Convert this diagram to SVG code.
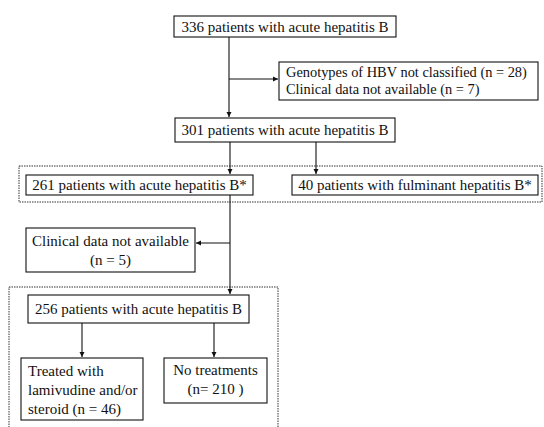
<svg xmlns="http://www.w3.org/2000/svg" width="544" height="427" viewBox="0 0 544 427">
<defs>
<marker id="ah" markerWidth="6" markerHeight="6" refX="5" refY="3" orient="auto" markerUnits="userSpaceOnUse">
<path d="M0,0.5 L5,3 L0,5.5 Z" fill="#111"/>
</marker>
<style>
.box{fill:#fff;stroke:#111;stroke-width:1.1}
.dot{fill:none;stroke:#333;stroke-width:1;stroke-dasharray:1.5 1}
.t{font-family:"Liberation Serif","Times New Roman",serif;font-size:15px;fill:#111}
.s{font-size:14.4px}
.c{text-anchor:middle}
.ln{stroke:#111;stroke-width:1.1;fill:none}
</style>
</defs>
<rect width="544" height="427" fill="#fff"/>
<g id="groups">
<rect class="dot" x="19" y="166" width="523" height="36"/>
<rect class="dot" x="9" y="287" width="269" height="150"/>
</g>
<g id="connectors">
<line class="ln" x1="229" y1="37" x2="229" y2="117" marker-end="url(#ah)"/>
<line class="ln" x1="229" y1="79" x2="278" y2="79" marker-end="url(#ah)"/>
<line class="ln" x1="230" y1="142" x2="230" y2="174" marker-end="url(#ah)"/>
<line class="ln" x1="316" y1="142" x2="316" y2="174" marker-end="url(#ah)"/>
<line class="ln" x1="230" y1="195" x2="230" y2="294" marker-end="url(#ah)"/>
<line class="ln" x1="230" y1="243" x2="196" y2="243" marker-end="url(#ah)"/>
<line class="ln" x1="82" y1="323" x2="82" y2="357" marker-end="url(#ah)"/>
<line class="ln" x1="214" y1="323" x2="214" y2="357" marker-end="url(#ah)"/>
</g>
<g id="n336">
<rect class="box" x="174" y="16" width="222" height="21"/>
<text class="t c" x="285" y="32">336 patients with acute hepatitis B</text>
</g>
<g id="excluded1">
<rect class="box" x="279" y="62" width="259" height="38"/>
<text class="t s" x="286" y="77">Genotypes of HBV not classified (n = 28)</text>
<text class="t s" x="286" y="94">Clinical data not available (n = 7)</text>
</g>
<g id="n301">
<rect class="box" x="175" y="118" width="220" height="24"/>
<text class="t c" x="285" y="135">301 patients with acute hepatitis B</text>
</g>
<g id="n261">
<rect class="box" x="26" y="175" width="227" height="20"/>
<text class="t c" x="139.5" y="190">261 patients with acute hepatitis B*</text>
</g>
<g id="n40">
<rect class="box" x="292" y="175" width="246" height="20"/>
<text class="t c" x="415" y="190">40 patients with fulminant hepatitis B*</text>
</g>
<g id="excluded2">
<rect class="box" x="26" y="228" width="169" height="44"/>
<text class="t c" x="110.5" y="246">Clinical data not available</text>
<text class="t c" x="110.5" y="265">(n = 5)</text>
</g>
<g id="n256">
<rect class="box" x="28" y="295" width="221" height="28"/>
<text class="t c" x="138.5" y="314">256 patients with acute hepatitis B</text>
</g>
<g id="treated">
<rect class="box" x="21" y="358" width="122" height="62"/>
<text class="t" x="28" y="376">Treated with</text>
<text class="t" x="28" y="395">lamivudine and/or</text>
<text class="t" x="28" y="414">steroid (n = 46)</text>
</g>
<g id="untreated">
<rect class="box" x="164" y="358" width="103" height="45"/>
<text class="t c" x="215.5" y="375">No treatments</text>
<text class="t c" x="215.5" y="394">(n= 210 )</text>
</g>
</svg>
